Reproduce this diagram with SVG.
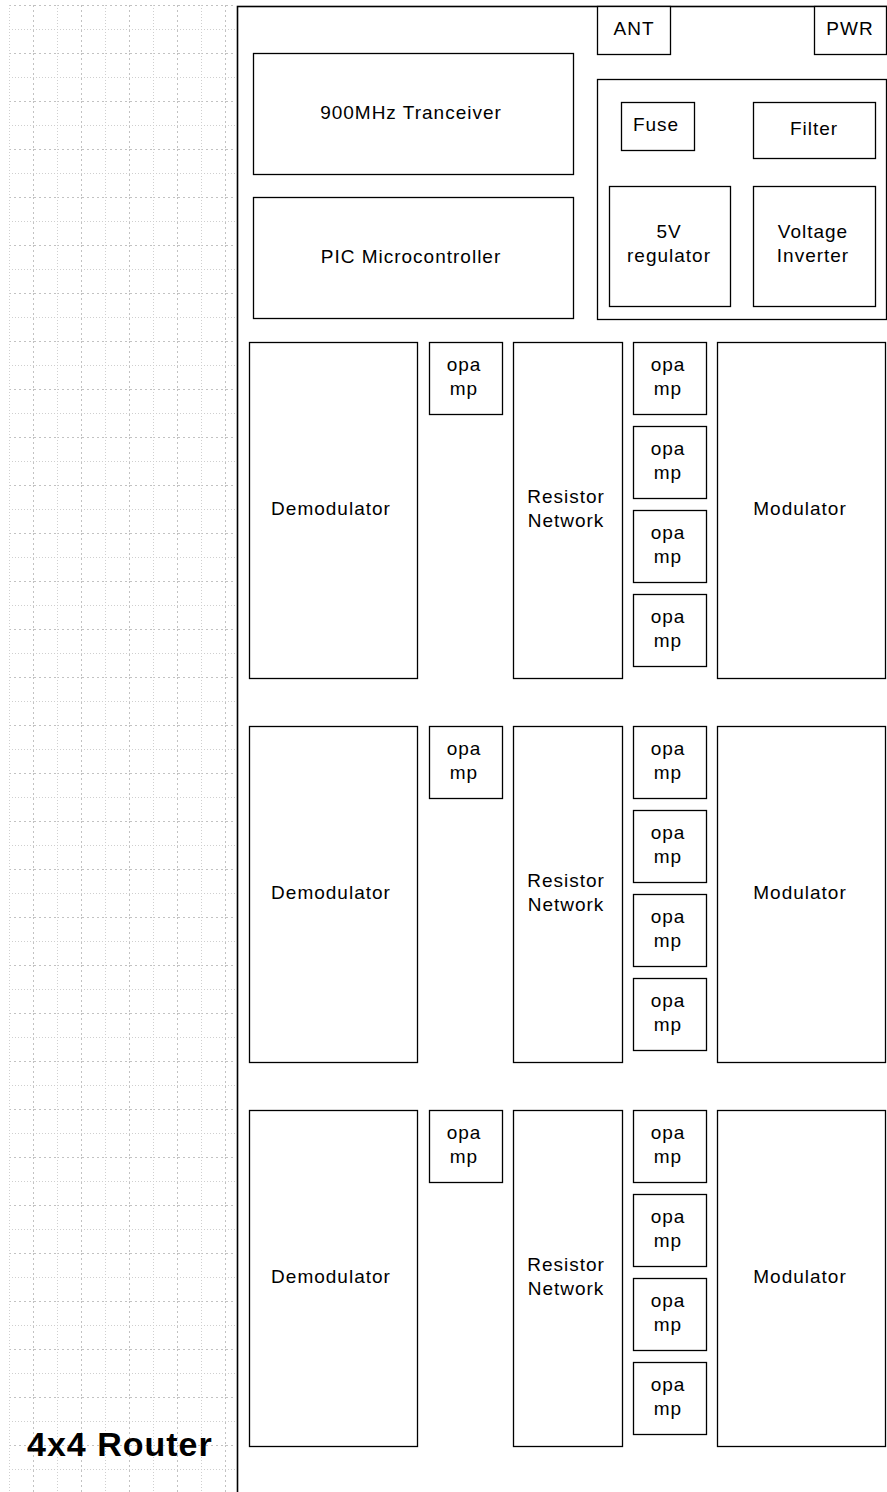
<svg xmlns="http://www.w3.org/2000/svg" width="887" height="1492" viewBox="0 0 887 1492">
<style>
.box{fill:#fff;stroke:#000;stroke-width:1.3}
.t{font-family:"Liberation Sans",Arial,sans-serif;font-size:19px;letter-spacing:1px;fill:#000;text-anchor:middle}
.title{font-family:"Liberation Sans",Arial,sans-serif;font-size:34px;font-weight:bold;letter-spacing:1px;fill:#000}
.minor{stroke:#cfcfcf;stroke-width:1;stroke-dasharray:1 2}
.major{stroke:#c2c2c2;stroke-width:1;stroke-dasharray:2 3}
</style>
<defs>
<pattern id="grid" patternUnits="userSpaceOnUse" x="9" y="5" width="48" height="48">
<line class="major" x1="0" y1="0.5" x2="48" y2="0.5"/>
<line class="minor" x1="0" y1="24.5" x2="48" y2="24.5"/>
<line class="minor" x1="0.5" y1="0" x2="0.5" y2="48"/>
<line class="major" x1="24.5" y1="0" x2="24.5" y2="48"/>
</pattern>
</defs>
<rect width="887" height="1492" fill="#fff"/>
<rect x="9" y="5" width="227" height="1487" fill="url(#grid)"/>
<g id="title"><text class="title" x="27" y="1456">4x4 Router</text></g>
<g id="frame"><rect x="237.5" y="6.5" width="660" height="1500" fill="none" stroke="#000" stroke-width="1.6"/></g>
<g id="connectors"></g>
<g id="ant"><rect class="box" x="597.5" y="6.5" width="73" height="48"/><text class="t" x="634" y="35">ANT</text></g>
<g id="pwr"><rect class="box" x="814.5" y="6.5" width="72" height="48"/><text class="t" x="850" y="35">PWR</text></g>
<g id="power"><rect class="box" x="597.5" y="79.5" width="289" height="240"/></g>
<g id="fuse"><rect class="box" x="621.5" y="102.5" width="73" height="48"/><text class="t" x="656" y="131">Fuse</text></g>
<g id="filter"><rect class="box" x="753.5" y="102.5" width="122" height="56"/><text class="t" x="814" y="135">Filter</text></g>
<g id="reg5v"><rect class="box" x="609.5" y="186.5" width="121" height="120"/><text class="t" x="669" y="238">5V</text><text class="t" x="669" y="262">regulator</text></g>
<g id="inverter"><rect class="box" x="753.5" y="186.5" width="122" height="120"/><text class="t" x="813" y="238">Voltage</text><text class="t" x="813" y="262">Inverter</text></g>
<g id="transceiver"><rect class="box" x="253.5" y="53.5" width="320" height="121"/><text class="t" x="411" y="119">900MHz Tranceiver</text></g>
<g id="pic"><rect class="box" x="253.5" y="197.5" width="320" height="121"/><text class="t" x="411" y="263">PIC Microcontroller</text></g>

<g id="sec1">
<g id="demod1"><rect class="box" x="249.5" y="342.5" width="168" height="336"/><text class="t" x="331" y="515">Demodulator</text></g>
<g id="opL1"><rect class="box" x="429.5" y="342.5" width="73" height="72"/><text class="t" x="464" y="371">opa</text><text class="t" x="464" y="395">mp</text></g>
<g id="res1"><rect class="box" x="513.5" y="342.5" width="109" height="336"/><text class="t" x="566" y="503">Resistor</text><text class="t" x="566" y="527">Network</text></g>
<g id="opR1a"><rect class="box" x="633.5" y="342.5" width="73" height="72"/><text class="t" x="668" y="371">opa</text><text class="t" x="668" y="395">mp</text></g>
<g id="opR1b"><rect class="box" x="633.5" y="426.5" width="73" height="72"/><text class="t" x="668" y="455">opa</text><text class="t" x="668" y="479">mp</text></g>
<g id="opR1c"><rect class="box" x="633.5" y="510.5" width="73" height="72"/><text class="t" x="668" y="539">opa</text><text class="t" x="668" y="563">mp</text></g>
<g id="opR1d"><rect class="box" x="633.5" y="594.5" width="73" height="72"/><text class="t" x="668" y="623">opa</text><text class="t" x="668" y="647">mp</text></g>
<g id="mod1"><rect class="box" x="717.5" y="342.5" width="168" height="336"/><text class="t" x="800" y="515">Modulator</text></g>
</g>

<g id="sec2">
<g id="demod2"><rect class="box" x="249.5" y="726.5" width="168" height="336"/><text class="t" x="331" y="899">Demodulator</text></g>
<g id="opL2"><rect class="box" x="429.5" y="726.5" width="73" height="72"/><text class="t" x="464" y="755">opa</text><text class="t" x="464" y="779">mp</text></g>
<g id="res2"><rect class="box" x="513.5" y="726.5" width="109" height="336"/><text class="t" x="566" y="887">Resistor</text><text class="t" x="566" y="911">Network</text></g>
<g id="opR2a"><rect class="box" x="633.5" y="726.5" width="73" height="72"/><text class="t" x="668" y="755">opa</text><text class="t" x="668" y="779">mp</text></g>
<g id="opR2b"><rect class="box" x="633.5" y="810.5" width="73" height="72"/><text class="t" x="668" y="839">opa</text><text class="t" x="668" y="863">mp</text></g>
<g id="opR2c"><rect class="box" x="633.5" y="894.5" width="73" height="72"/><text class="t" x="668" y="923">opa</text><text class="t" x="668" y="947">mp</text></g>
<g id="opR2d"><rect class="box" x="633.5" y="978.5" width="73" height="72"/><text class="t" x="668" y="1007">opa</text><text class="t" x="668" y="1031">mp</text></g>
<g id="mod2"><rect class="box" x="717.5" y="726.5" width="168" height="336"/><text class="t" x="800" y="899">Modulator</text></g>
</g>

<g id="sec3">
<g id="demod3"><rect class="box" x="249.5" y="1110.5" width="168" height="336"/><text class="t" x="331" y="1283">Demodulator</text></g>
<g id="opL3"><rect class="box" x="429.5" y="1110.5" width="73" height="72"/><text class="t" x="464" y="1139">opa</text><text class="t" x="464" y="1163">mp</text></g>
<g id="res3"><rect class="box" x="513.5" y="1110.5" width="109" height="336"/><text class="t" x="566" y="1271">Resistor</text><text class="t" x="566" y="1295">Network</text></g>
<g id="opR3a"><rect class="box" x="633.5" y="1110.5" width="73" height="72"/><text class="t" x="668" y="1139">opa</text><text class="t" x="668" y="1163">mp</text></g>
<g id="opR3b"><rect class="box" x="633.5" y="1194.5" width="73" height="72"/><text class="t" x="668" y="1223">opa</text><text class="t" x="668" y="1247">mp</text></g>
<g id="opR3c"><rect class="box" x="633.5" y="1278.5" width="73" height="72"/><text class="t" x="668" y="1307">opa</text><text class="t" x="668" y="1331">mp</text></g>
<g id="opR3d"><rect class="box" x="633.5" y="1362.5" width="73" height="72"/><text class="t" x="668" y="1391">opa</text><text class="t" x="668" y="1415">mp</text></g>
<g id="mod3"><rect class="box" x="717.5" y="1110.5" width="168" height="336"/><text class="t" x="800" y="1283">Modulator</text></g>
</g>
</svg>
